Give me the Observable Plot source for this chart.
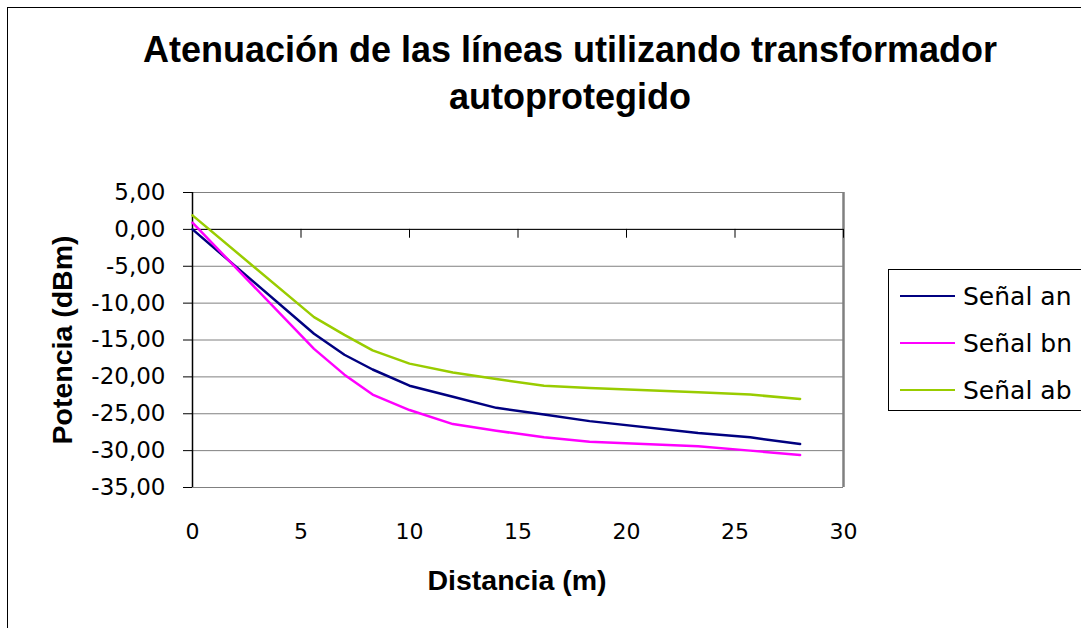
<!DOCTYPE html>
<html>
<head>
<meta charset="utf-8">
<script src="https://cdn.jsdelivr.net/npm/d3@7"></script>
<script src="https://cdn.jsdelivr.net/npm/@observablehq/plot@0.6"></script>
<style>
  html, body { margin: 0; padding: 0; background: #fff; }
  #wrap { position: relative; width: 1081px; height: 628px; overflow: hidden; font-family: "Liberation Sans", Arial, sans-serif; color: #000; }
  #frame { position: absolute; left: 7px; top: 7px; width: 1200px; height: 800px; border-left: 1px solid #000; border-top: 1px solid #000; }
  #title { position: absolute; left: 60px; width: 1020px; top: 26px; text-align: center; font-weight: bold; font-size: 36px; line-height: 47px; }
  #ytitle { position: absolute; left: 62px; top: 340px; transform: translate(-50%, -50%) rotate(-90deg); font-weight: bold; font-size: 28.5px; white-space: nowrap; }
  #xtitle { position: absolute; left: 517px; top: 580px; transform: translate(-50%, -50%); font-weight: bold; font-size: 28.5px; white-space: nowrap; }
  #legend { position: absolute; left: 888px; top: 269px; width: 220px; height: 140px; border: 1px solid #000; background: #fff; }
  .item { position: absolute; left: 11px; height: 30px; display: flex; align-items: center; font-family: "DejaVu Sans", sans-serif; font-size: 25px; white-space: nowrap; }
  .item .sw { width: 55px; height: 2px; margin-right: 8px; }
  #chart { position: absolute; left: 0; top: 0; }
</style>
</head>
<body>
<div id="wrap">
  <div id="frame"></div>
  <div id="chart"></div>
  <div id="title">Atenuación de las líneas utilizando transformador<br>autoprotegido</div>
  <div id="ytitle">Potencia (dBm)</div>
  <div id="xtitle">Distancia (m)</div>
  <div id="legend"></div>
</div>
<script>
const distances = [0, 5.6, 7, 8.3, 10, 12, 14, 16.2, 18.3, 23.3, 25.7, 28];
const senalAn = [0.0, -14.15, -17.0, -19.0, -21.2, -22.7, -24.2, -25.1, -26.0, -27.6, -28.2, -29.1];
const senalBn = [0.9, -16.2, -19.7, -22.4, -24.5, -26.4, -27.3, -28.2, -28.8, -29.4, -30.0, -30.6];
const senalAb = [1.9, -11.9, -14.3, -16.4, -18.2, -19.4, -20.3, -21.2, -21.5, -22.1, -22.4, -23.0];
const seriesNames = ["Señal an", "Señal bn", "Señal ab"];
const seriesColors = ["#000080", "#FF00FF", "#99CC00"];
const xTicks = [0, 5, 10, 15, 20, 25, 30];
const yTicks = [5, 0, -5, -10, -15, -20, -25, -30, -35];

const seriesValues = [senalAn, senalBn, senalAb];
const data = [];
seriesNames.forEach((name, i) => {
  distances.forEach((d, j) => data.push({series: name, x: d, y: seriesValues[i][j]}));
});

const fmt = d => d.toFixed(2).replace(".", ",");

const chart = Plot.plot({
  width: 1081,
  height: 628,
  marginLeft: 192,
  marginRight: 238,
  marginTop: 192,
  marginBottom: 141,
  x: {domain: [0, 30]},
  y: {domain: [-35, 5]},
  color: {domain: seriesNames, range: seriesColors},
  style: {fontFamily: "'DejaVu Sans', sans-serif", fontSize: "23px", color: "#000", background: "transparent", overflow: "visible"},
  marks: [
    Plot.gridY(yTicks, {stroke: "#808080", strokeOpacity: 1, strokeWidth: 1}),
    Plot.ruleX([30], {stroke: "#808080", strokeWidth: 2.5}),
    Plot.ruleY([0], {stroke: "#000", strokeWidth: 1}),
    Plot.ruleX(xTicks.slice(1), {x: d => d, y1: 0, y2: -1.2, stroke: "#000"}),
    Plot.axisX(xTicks, {anchor: "bottom", tickSize: 0, tickPadding: 36, label: null, tickFormat: d => String(d), fontSize: 22}),
    Plot.axisY(yTicks, {anchor: "left", tickSize: 9, tickPadding: 18, label: null, tickFormat: fmt, stroke: "#000", fontSize: 23}),
    Plot.ruleX([0], {stroke: "#000", strokeWidth: 1.5}),
    Plot.line(data, {x: "x", y: "y", z: "series", stroke: "series", strokeWidth: 2.5, curve: "linear"})
  ]
});
document.getElementById("chart").appendChild(chart);

const legend = document.getElementById("legend");
const legendTops = [11, 58, 105];
seriesNames.forEach((name, i) => {
  const item = document.createElement("div");
  item.className = "item";
  item.style.top = legendTops[i] + "px";
  const sw = document.createElement("span");
  sw.className = "sw";
  sw.style.background = seriesColors[i];
  const t = document.createElement("span");
  t.textContent = name;
  item.appendChild(sw);
  item.appendChild(t);
  legend.appendChild(item);
});
</script>
</body>
</html>
